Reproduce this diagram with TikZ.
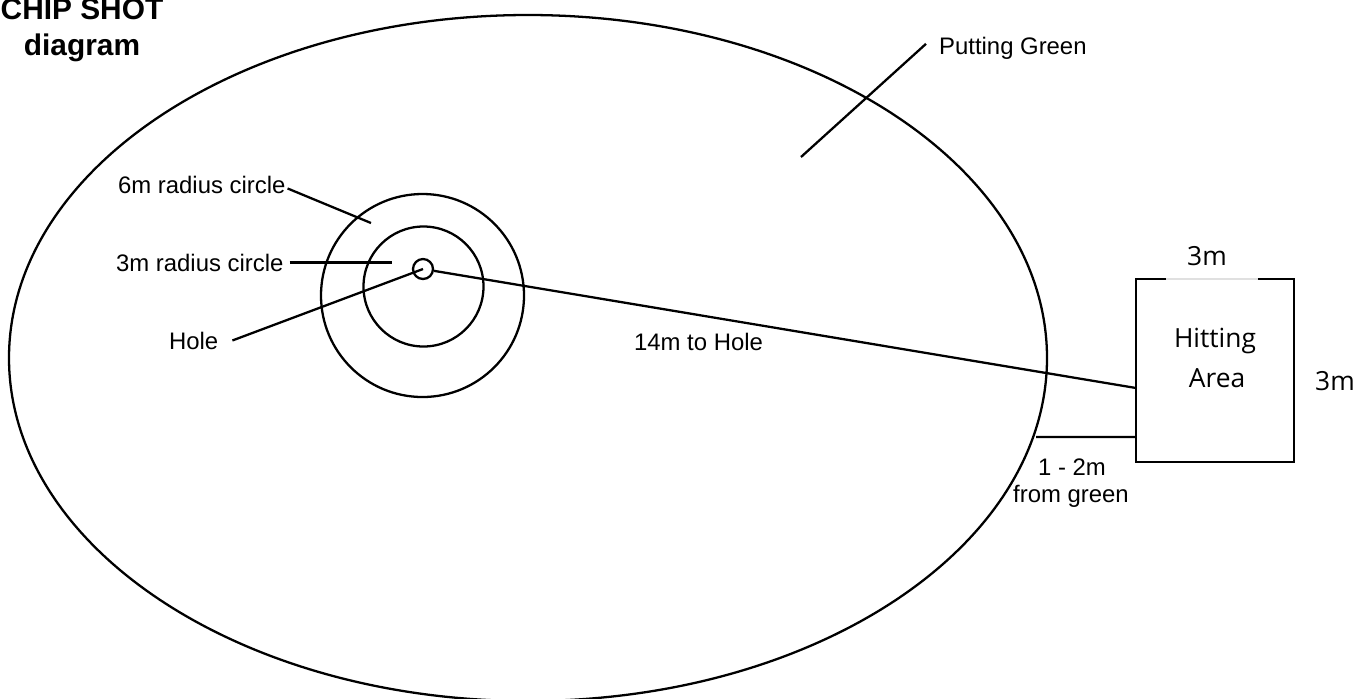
\documentclass[tikz,border=0pt]{standalone}
\usepackage{fontspec}
\setmainfont{Liberation Sans}
\newfontfamily\areafont{Open Sans}
\usepackage{tikz}
\usetikzlibrary{calc}

\begin{document}
\begin{tikzpicture}[x=0.02cm, y=-0.02cm, line width=1.3pt,
  lbl/.style={inner sep=0pt, font=\fontsize{13.6}{16}\selectfont},
  arealbl/.style={inner sep=0pt, anchor=base, font=\areafont\fontsize{15}{18}\selectfont}]
\useasboundingbox (0,0) rectangle (1358,698);
% green and target circles
\draw (528,358) ellipse [x radius=519, y radius=343];
\draw (422.5,295.5) circle [radius=101.5];
\draw (423.5,286.5) circle [radius=60];
\node[circle, draw, inner sep=0pt, minimum size=0.4cm] (hole) at (423,269) {};
% title
\node[inner sep=0pt, anchor=south, align=center, font=\bfseries\fontsize{17}{20.4}\selectfont] (title) at (82,63) {CHIP SHOT\\diagram};
% labels
\node[lbl, anchor=base west] (pg) at (938,54) {Putting Green};
\node[lbl, anchor=base west] (r6) at (117,193) {6m radius circle};
\node[lbl, anchor=base west] (r3) at (115,271) {3m radius circle};
\node[lbl, anchor=base west] (hl) at (168,349) {Hole};
\node[lbl, anchor=base west] (dist) at (633,350) {14m to Hole};
\node[lbl, anchor=base] (gap1) at (1072,475) {1 - 2m};
\node[lbl, anchor=base] (gap2) at (1071,502) {from green};
\coordinate (pgend) at (801,157);
\coordinate (r6end) at (371,223);
\coordinate (r3end) at (392,264);
\coordinate (gedge) at (1036,437);
\draw ([shift={(-0.24cm,0.08cm)}]pg.west) -- (pgend);
\draw ([shift={(0.02cm,-0.08cm)}]r6.east) -- (r6end);
\draw ([xshift=0.1cm]r3.east) -- (r3.east -| r3end);
\draw ([xshift=0.26cm]hl.east) -- (hole.center);
% hitting area
\node[inner sep=0pt, outer sep=0pt, minimum width=3.16cm, minimum height=3.66cm] (hit) at (1215,370.5) {};
\draw[black!12] ([xshift=0.6cm]hit.north west) -- ([xshift=-0.72cm]hit.north east);
\draw ([xshift=0.6cm]hit.north west) -- (hit.north west) -- (hit.south west) -- (hit.south east) -- (hit.north east) -- ([xshift=-0.72cm]hit.north east);
\node[arealbl] (hitting) at (1215,347) {Hitting};
\node[arealbl] (area) at (1217,387) {Area};
\node[arealbl] (wtop) at (1207,265) {3m};
\node[arealbl] (wside) at (1335,390) {3m};
\draw (hole) -- ([yshift=-0.35cm]hit.west);
\draw (gedge) -- ([yshift=-1.33cm]hit.west);
\end{tikzpicture}
\end{document}
